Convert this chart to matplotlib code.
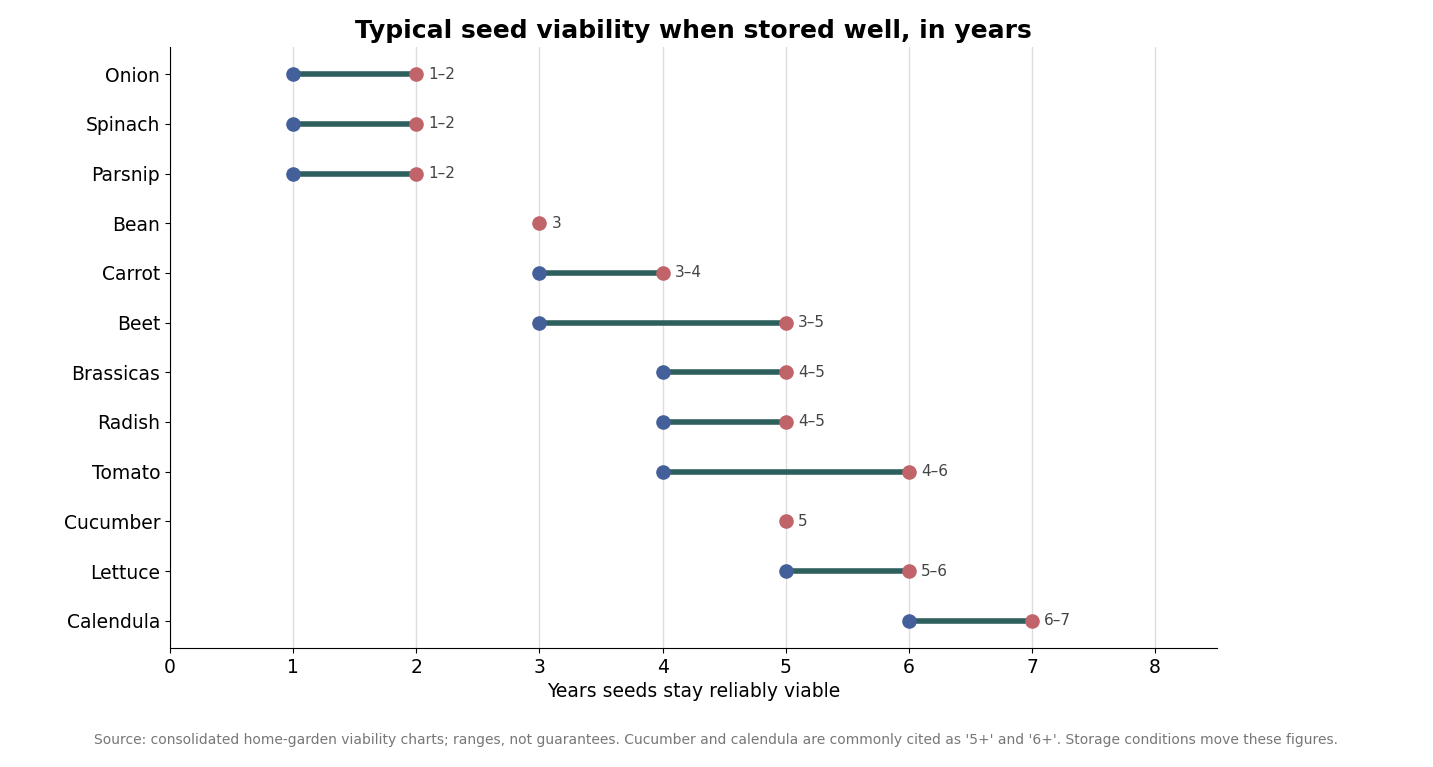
import matplotlib
matplotlib.use("Agg")
import matplotlib.pyplot as plt

crops = ["Onion", "Spinach", "Parsnip", "Bean", "Carrot", "Beet", "Brassicas",
         "Radish", "Tomato", "Cucumber", "Lettuce", "Calendula"]
low = [1, 1, 1, 3, 3, 3, 4, 4, 4, 5, 5, 6]
high = [2, 2, 2, 3, 4, 5, 5, 5, 6, 5, 6, 7]

fig = plt.figure(figsize=(14.33, 7.67), dpi=100)
ax = fig.add_axes([0.1186, 0.155, 0.7305, 0.784])

ys = list(range(len(crops)))
for y, lo, hi in zip(ys, low, high):
    if hi > lo:
        ax.plot([lo, hi], [y, y], color="#2d5f5d", lw=4, zorder=2, solid_capstyle="butt")
        ax.scatter([lo], [y], s=90, color="#44609a", zorder=3)
        label = f"{lo}\u2013{hi}"
    else:
        label = f"{hi}"
    ax.scatter([hi], [y], s=90, color="#c0646a", zorder=4)
    ax.text(hi + 0.1, y, label, va="center", ha="left", fontsize=11, color="#444444")

ax.set_yticks(ys)
ax.set_yticklabels(crops, fontsize=13.5)
ax.set_ylim(len(crops) - 0.45, -0.55)
ax.set_xlim(0, 8.5)
ax.set_xticks(range(9))
ax.tick_params(axis="x", labelsize=13.5)
ax.grid(axis="x", color="#dddddd", lw=1)
ax.set_axisbelow(True)
for s in ["top", "right"]:
    ax.spines[s].set_visible(False)
ax.set_xlabel("Years seeds stay reliably viable", fontsize=13.5)
ax.set_title("Typical seed viability when stored well, in years", fontsize=18,
             fontweight="bold")
fig.text(0.5, 0.03, "Source: consolidated home-garden viability charts; ranges, not guarantees. "
         "Cucumber and calendula are commonly cited as '5+' and '6+'. Storage conditions move these figures.",
         ha="center", fontsize=10, color="#777777")
fig.savefig("out.png", dpi=100)
